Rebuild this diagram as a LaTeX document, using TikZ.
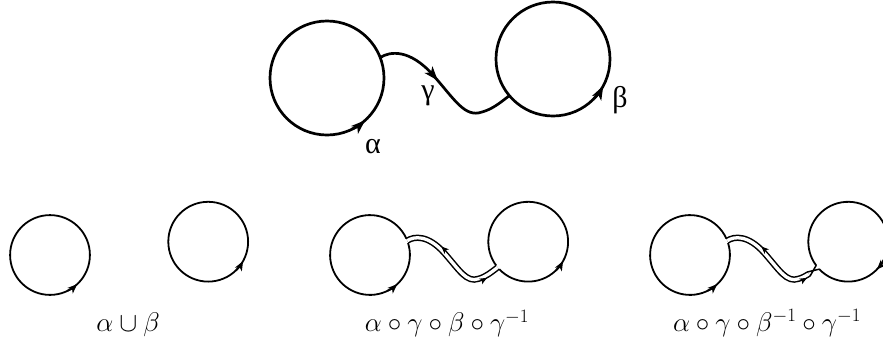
\RequirePackage{fix-cm}
\documentclass[tikz,border=0pt]{standalone}
\usepackage{fontspec}
\newfontfamily\grk{Liberation Serif}
\usetikzlibrary{arrows.meta,decorations.markings,calc}
\tikzset{
  bigline/.style={line width=2.7pt},
  smallline/.style={line width=1.8pt},
  strand/.style={line width=1.5pt, line cap=round},
  strip/.style={line width=1.5pt, double distance=3.3pt, double=white},
  bigtip/.style={-{Stealth[length=14pt,width=10pt,inset=3.5pt]}},
  smalltip/.style={-{Stealth[length=9.5pt,width=7.5pt,inset=2.5pt]}},
  greeklabel/.style={font=\fontsize{30}{34}\grk, inner sep=0pt},
  mathlabel/.style={font=\fontsize{27}{32}\selectfont, inner sep=0pt},
}
\newcommand\backhead{\fill (0pt,2.4pt) -- (7.5pt,5.6pt) -- (5.5pt,2.4pt) -- (7.5pt,-0.8pt) -- cycle;}
\newcommand\fwdhead{\fill (0pt,-2.4pt) -- (-7.5pt,0.8pt) -- (-5.5pt,-2.4pt) -- (-7.5pt,-5.6pt) -- cycle;}
\begin{document}
\begin{tikzpicture}
\useasboundingbox (0pt,0pt) rectangle (883pt,-341pt);

% ---------- top motif ----------
\begin{scope}[shift={(327pt,-78pt)}, x=1pt, y=1pt]
  \coordinate (tL) at (0,0);
  \coordinate (tR) at (226,19);
  \coordinate (tS) at (21:57);
  \path (tR) ++(220:57) coordinate (tE);
  \draw[bigline] (tL) circle[radius=57];
  \draw[bigline] (tR) circle[radius=57];
  \draw[bigline, bigtip] (tL) ++(-64:57) arc[start angle=-64, end angle=-48, radius=57];
  \draw[bigline, bigtip] (tR) ++(-44:57) arc[start angle=-44, end angle=-28, radius=57];
  \draw[bigline, postaction={decorate}, decoration={markings, mark=at position 0.43 with {\arrow{Stealth[length=14pt,width=10pt,inset=3.5pt]}}}]
    (tS) .. controls (63,27) and (83,29) .. (106,3)
         .. controls (128,-22) and (138,-40) .. (155,-34)
         .. controls (166,-31) and (174,-24) .. (tE);
\end{scope}
\node[greeklabel] (la) at (373pt,-147pt) {α};
\node[greeklabel] (lg) at (428pt,-96pt) {γ};
\node[greeklabel] (lb) at (620pt,-100pt) {β};

% ---------- bottom left: alpha u beta ----------
\begin{scope}[shift={(50pt,-255pt)}, x=0.7pt, y=0.7pt]
  \coordinate (aL) at (0,0);
  \coordinate (aR) at (226,19);
  \draw[smallline] (aL) circle[radius=57];
  \draw[smallline] (aR) circle[radius=57];
  \draw[smallline, smalltip] (aL) ++(-64:57) arc[start angle=-64, end angle=-47, radius=57];
  \draw[smallline, smalltip] (aR) ++(-46:57) arc[start angle=-46, end angle=-29, radius=57];
\end{scope}
\node[mathlabel] (l1) at (128pt,-325pt) {$\alpha\cup\beta$};

% ---------- bottom middle ----------
\begin{scope}[shift={(370pt,-255pt)}, x=0.7pt, y=0.7pt]
  \coordinate (mL) at (0,0);
  \coordinate (mR) at (226,19);
  \coordinate (mS) at (21:57);
  \path (mR) ++(220:57) coordinate (mE);
  \draw[smallline] (mL) ++(24.4:57) arc[start angle=24.4, end angle=377.6, radius=57];
  \draw[smallline] (mR) ++(223.5:57) arc[start angle=223.5, end angle=576.5, radius=57];
  \draw[smallline, smalltip] (mL) ++(-64:57) arc[start angle=-64, end angle=-47, radius=57];
  \draw[smallline, smalltip] (mR) ++(-46:57) arc[start angle=-46, end angle=-29, radius=57];
  \draw[strip, postaction={decorate}, decoration={markings,
      mark=at position 36pt with {\backhead},
      mark=at position 96pt with {\fwdhead}}]
    (mS) .. controls (63,27) and (83,29) .. (106,3)
         .. controls (128,-22) and (138,-40) .. (155,-34)
         .. controls (166,-31) and (174,-24) .. (mE);
\end{scope}
\node[mathlabel] (l2) at (447pt,-323.5pt) {$\alpha\circ\gamma\circ\beta\circ\gamma^{-1}$};

% ---------- bottom right ----------
\begin{scope}[shift={(690pt,-255pt)}, x=0.7pt, y=0.7pt]
  \coordinate (rL) at (0,0);
  \coordinate (rR) at (226,19);
  \coordinate (rS) at (21:57);
  \coordinate (rQ) at (169.7,-27.1);
  \coordinate (rQc) at (165.25,-30);
  \path (rR) ++(216.5:57) coordinate (rPu);
  \path (rR) ++(223.5:57) coordinate (rPd);
  \draw[smallline] (rL) ++(24.4:57) arc[start angle=24.4, end angle=377.6, radius=57];
  \draw[smallline] (rR) ++(223.5:57) arc[start angle=223.5, end angle=576.5, radius=57];
  \draw[smallline, smalltip] (rL) ++(-64:57) arc[start angle=-64, end angle=-47, radius=57];
  \draw[smallline, smalltip] (rR) ++(-27:57) arc[start angle=-27, end angle=-44, radius=57];
  \draw[strip, postaction={decorate}, decoration={markings,
      mark=at position 36pt with {\backhead},
      mark=at position 96pt with {\fwdhead}}]
    (rS) .. controls (63,27) and (83,29) .. (106,3)
         .. controls (128,-22) and (138,-40) .. (155,-34)
         .. controls (160.5,-32.5) and (165.25,-30) .. (rQ);
  \coordinate (rUq) at ($(rQ)!2.4pt!-90:(rQc)$);
  \coordinate (rDq) at ($(rQ)!2.4pt!90:(rQc)$);
  \draw[strand] (rUq) -- (rPd);
  \draw[strand] (rDq) -- (rPu);
\end{scope}
\node[mathlabel] (l3) at (767pt,-323pt) {$\alpha\circ\gamma\circ\beta^{-1}\circ\gamma^{-1}$};
\end{tikzpicture}
\end{document}
